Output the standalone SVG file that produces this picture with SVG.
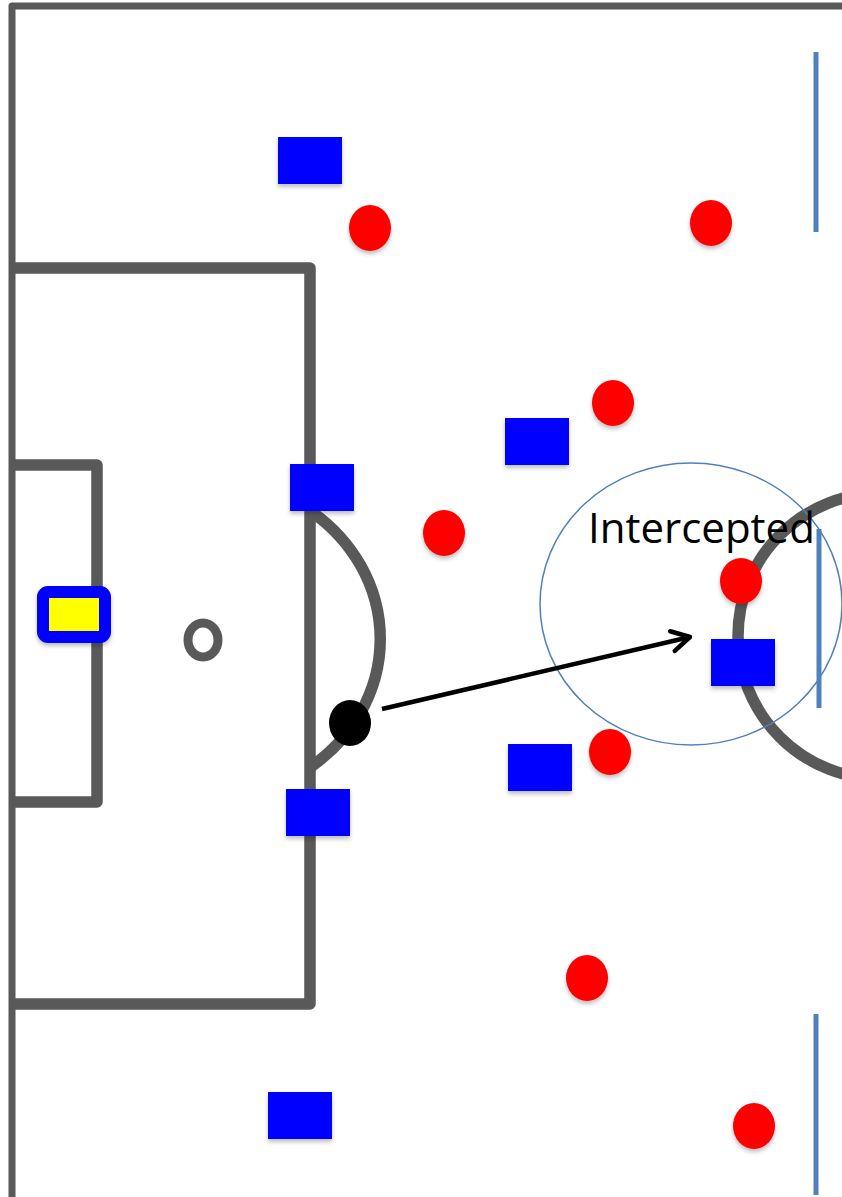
<svg xmlns="http://www.w3.org/2000/svg" width="842" height="1197" viewBox="0 0 842 1197">
  <defs>
    <style>
      .pitch { fill: none; stroke: #595959; stroke-linecap: round; stroke-linejoin: round; }
      .box { stroke-linecap: butt; }
      .thin { stroke-width: 7; }
      .thick { stroke-width: 11.5; }
      .half { stroke: #4F81BD; stroke-width: 5; fill: none; }
      .def { fill: #0000FF; filter: url(#sh); }
      .att { fill: #FF0000; filter: url(#sh); }
      .label { font-family: "Open Sans", "Liberation Sans", sans-serif; font-size: 42px; fill: #000; }
    </style>
    <filter id="sh" x="-20%" y="-20%" width="140%" height="150%">
      <feDropShadow dx="0" dy="3" stdDeviation="2" flood-color="#000" flood-opacity="0.25"/>
    </filter>
    <marker id="arrow" viewBox="0 0 24 24" refX="20" refY="12" markerWidth="6" markerHeight="6" markerUnits="strokeWidth" orient="auto">
      <path d="M 4 3 L 20 12 L 4 21" fill="none" stroke="#000" stroke-width="4" stroke-linecap="round" stroke-linejoin="round"/>
    </marker>
  </defs>
  <rect width="842" height="1197" fill="#FFFFFF"/>

  <g id="pitch">
    <path class="pitch thin" d="M 842 6 H 12 V 1197"/>
    <path class="pitch thick box" d="M 12 268 H 310 V 1004 H 12"/>
    <path class="pitch thick box" d="M 12 465 H 97 V 802 H 12"/>
    <ellipse class="pitch" cx="203" cy="640" rx="15" ry="17" stroke-width="9"/>
    <path class="pitch thick" d="M 312 512 A 180 162 0 0 1 312 766"/>
    <circle class="pitch thick" cx="881" cy="636" r="143"/>
    <line class="half" x1="816" y1="52" x2="816" y2="232"/>
    <line class="half" x1="819" y1="529" x2="819" y2="708"/>
    <line class="half" x1="816" y1="1014" x2="816" y2="1195"/>
  </g>

  <g id="goalkeeper">
    <rect x="43" y="592" width="62" height="45" rx="5" fill="#FFFF00" stroke="#0000FF" stroke-width="12" filter="url(#sh)"/>
  </g>

  <g id="defenders">
    <rect id="d1" class="def" x="278" y="137" width="64" height="47"/>
    <rect id="d2" class="def" x="505" y="418" width="64" height="47"/>
    <rect id="d3" class="def" x="290" y="464" width="64" height="47"/>
    <rect id="d4" class="def" x="711" y="639" width="64" height="47"/>
    <rect id="d5" class="def" x="508" y="744" width="64" height="47"/>
    <rect id="d6" class="def" x="286" y="789" width="64" height="47"/>
    <rect id="d7" class="def" x="268" y="1092" width="64" height="47"/>
  </g>

  <g id="attackers">
    <ellipse id="a1" class="att" cx="370" cy="228" rx="21" ry="23"/>
    <ellipse id="a2" class="att" cx="711" cy="223" rx="21" ry="23"/>
    <ellipse id="a3" class="att" cx="613" cy="403" rx="21" ry="23"/>
    <ellipse id="a4" class="att" cx="444" cy="533" rx="21" ry="23"/>
    <ellipse id="a5" class="att" cx="741" cy="581" rx="21" ry="23"/>
    <ellipse id="a6" class="att" cx="610" cy="752" rx="21" ry="23"/>
    <ellipse id="a7" class="att" cx="587" cy="978" rx="21" ry="23"/>
    <ellipse id="a8" class="att" cx="754" cy="1126" rx="21" ry="23"/>
  </g>

  <g id="ball">
    <ellipse cx="350" cy="723" rx="21" ry="23" fill="#000000"/>
  </g>

  <g id="intercept">
    <ellipse cx="691" cy="604" rx="151" ry="141" fill="none" stroke="#4F81BD" stroke-width="1.5"/>
    <text class="label" x="588" y="543">Intercepted</text>
  </g>

  <g id="connectors">
    <line x1="382" y1="709" x2="690" y2="637" stroke="#000" stroke-width="4.5" marker-end="url(#arrow)"/>
  </g>
</svg>
